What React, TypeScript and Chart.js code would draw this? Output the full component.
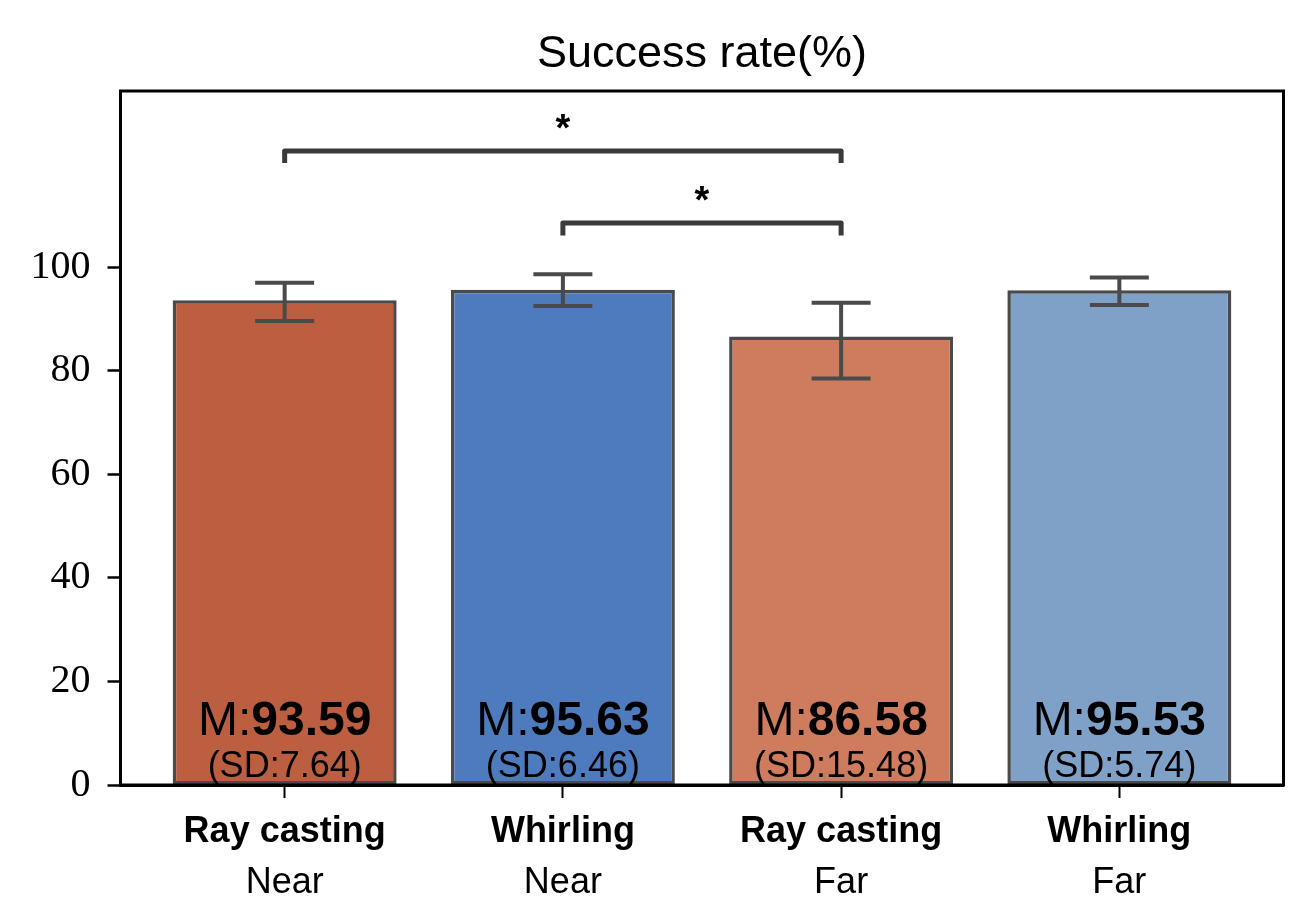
import React, { useEffect, useRef } from "react";
import { Chart, registerables } from "chart.js";

Chart.register(...registerables);

const titleText = "Success rate(%)";
const categories = ["Ray casting", "Whirling", "Ray casting", "Whirling"];
const conditions = ["Near", "Near", "Far", "Far"];
const means = [93.59, 95.63, 86.58, 95.53];
const sds = [7.64, 6.46, 15.48, 5.74];
const ciLow = [89.6, 92.5, 78.5, 92.7];
const ciHigh = [97.0, 98.6, 93.1, 98.0];
const barColors = ["#BC5E40", "#4E7BBE", "#CF7C5E", "#7FA1C7"];
const yTicks = [0, 20, 40, 60, 80, 100];
const xTicks = [0, 1, 2, 3];
const brackets = [
  { from: 0, to: 2, y: 122.4, drop: 2.3, label: "*" },
  { from: 1, to: 2, y: 108.5, drop: 2.4, label: "*" },
];

const SANS = "'Liberation Sans', Arial, sans-serif";
const SERIF = "'Liberation Serif', 'Times New Roman', serif";
const EDGE = "#4A4A4A";

const overlayPlugin = {
  id: "overlay",
  afterDatasetsDraw(chart: any) {
    const ctx = chart.ctx;
    const xs = chart.scales.x;
    const ys = chart.scales.y;
    const area = chart.chartArea;
    ctx.save();
    // error bars
    ctx.strokeStyle = EDGE;
    ctx.lineWidth = 4;
    ctx.lineCap = "butt";
    for (let i = 0; i < means.length; i++) {
      const cx = xs.getPixelForValue(i);
      const capL = xs.getPixelForValue(i - 0.106);
      const capR = xs.getPixelForValue(i + 0.106);
      const yLo = ys.getPixelForValue(ciLow[i]);
      const yHi = ys.getPixelForValue(ciHigh[i]);
      ctx.beginPath();
      ctx.moveTo(cx, yLo);
      ctx.lineTo(cx, yHi);
      ctx.moveTo(capL, yLo);
      ctx.lineTo(capR, yLo);
      ctx.moveTo(capL, yHi);
      ctx.lineTo(capR, yHi);
      ctx.stroke();
    }
    // brackets
    ctx.strokeStyle = "#3A3A3A";
    ctx.lineWidth = 5;
    ctx.lineJoin = "round";
    for (const b of brackets) {
      const x1 = xs.getPixelForValue(b.from);
      const x2 = xs.getPixelForValue(b.to);
      const yTop = ys.getPixelForValue(b.y);
      const yBot = ys.getPixelForValue(b.y - b.drop);
      ctx.beginPath();
      ctx.moveTo(x1, yBot);
      ctx.lineTo(x1, yTop);
      ctx.lineTo(x2, yTop);
      ctx.lineTo(x2, yBot);
      ctx.stroke();
      ctx.fillStyle = "#000";
      ctx.font = `bold 38px ${SANS}`;
      ctx.textAlign = "center";
      ctx.textBaseline = "alphabetic";
      ctx.fillText(b.label, (x1 + x2) / 2, yTop - 10);
    }
    // labels inside bars
    const bottom = area.bottom;
    for (let i = 0; i < means.length; i++) {
      const cx = xs.getPixelForValue(i);
      const left = "M:";
      const right = means[i].toFixed(2);
      ctx.textBaseline = "alphabetic";
      ctx.textAlign = "left";
      ctx.font = `48px ${SANS}`;
      const wl = ctx.measureText(left).width;
      ctx.font = `bold 48px ${SANS}`;
      const wr = ctx.measureText(right).width;
      const start = cx - (wl + wr) / 2;
      ctx.fillStyle = "#000";
      ctx.font = `48px ${SANS}`;
      ctx.fillText(left, start, bottom - 50);
      ctx.font = `bold 48px ${SANS}`;
      ctx.fillText(right, start + wl, bottom - 50);
      ctx.textAlign = "center";
      ctx.font = `36px ${SANS}`;
      ctx.fillText(`(SD:${sds[i].toFixed(2)})`, cx, bottom - 8);
    }
    ctx.restore();
  },
  afterDraw(chart: any) {
    const ctx = chart.ctx;
    const xs = chart.scales.x;
    const area = chart.chartArea;
    ctx.save();
    // frame
    ctx.strokeStyle = "#000";
    ctx.lineWidth = 3;
    ctx.strokeRect(area.left, area.top, area.right - area.left, area.bottom - area.top);
    // title
    ctx.fillStyle = "#000";
    ctx.textAlign = "center";
    ctx.textBaseline = "alphabetic";
    ctx.font = `45px ${SANS}`;
    ctx.fillText(titleText, (area.left + area.right) / 2, 67);
    // x tick labels
    for (let i = 0; i < categories.length; i++) {
      const cx = xs.getPixelForValue(i);
      ctx.font = `bold 36px ${SANS}`;
      ctx.fillText(categories[i], cx, area.bottom + 57);
      ctx.font = `36px ${SANS}`;
      ctx.fillText(conditions[i], cx, area.bottom + 108);
    }
    ctx.restore();
  },
};

export default function App() {
  const ref = useRef<HTMLCanvasElement>(null);
  useEffect(() => {
    document.body.style.margin = "0";
    if (!ref.current) return;
    const chart = new Chart(ref.current, {
      type: "bar",
      data: {
        datasets: [
          {
            data: means.map((m, i) => ({ x: i, y: m })) as any,
            backgroundColor: barColors,
            borderColor: EDGE,
            borderWidth: 3.5,
            borderSkipped: false,
            categoryPercentage: 1,
            barPercentage: 0.805,
          },
        ],
      },
      options: {
        animation: false,
        responsive: false,
        maintainAspectRatio: false,
        layout: { padding: { left: 0, right: 29.5, top: 91, bottom: 0 } },
        plugins: {
          legend: { display: false },
          tooltip: { enabled: false },
          title: { display: false },
        },
        scales: {
          x: {
            type: "linear",
            min: -0.59,
            max: 3.59,
            offset: false,
            afterBuildTicks: (s: any) => {
              s.ticks = xTicks.map((v) => ({ value: v }));
            },
            afterFit: (s: any) => {
              s.height = 138;
            },
            ticks: { display: false, autoSkip: false },
            grid: {
              offset: false,
              drawOnChartArea: false,
              drawTicks: true,
              tickLength: 13,
              tickWidth: 2,
              tickColor: "#000",
            },
            border: { display: true, color: "#000", width: 3 },
          },
          y: {
            type: "linear",
            min: 0,
            max: 134,
            afterBuildTicks: (s: any) => {
              s.ticks = yTicks.map((v) => ({ value: v }));
            },
            afterFit: (s: any) => {
              s.width = 120.5;
            },
            ticks: {
              color: "#000",
              padding: 17,
              font: { family: SERIF, size: 40 },
              callback: (v: any) => String(v),
            },
            grid: {
              drawOnChartArea: false,
              drawTicks: true,
              tickLength: 13,
              tickWidth: 2.5,
              tickColor: "#000",
            },
            border: { display: true, color: "#000", width: 3 },
          },
        },
      },
      plugins: [overlayPlugin],
    });
    return () => chart.destroy();
  }, []);
  return (
    <div style={{ position: "absolute", left: 0, top: 0, width: 1313, height: 923, background: "#fff" }}>
      <canvas ref={ref} width={1313} height={923} />
    </div>
  );
}
